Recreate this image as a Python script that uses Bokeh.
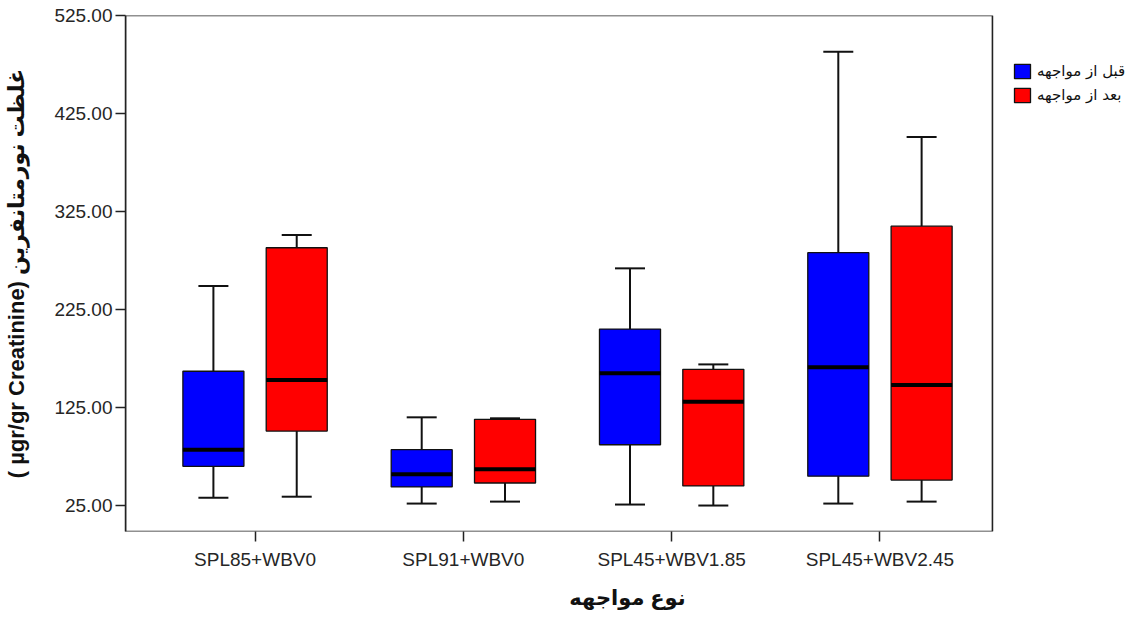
from bokeh.plotting import figure
from bokeh.models import FixedTicker, PrintfTickFormatter, Range1d, Legend, LegendItem, BoxAnnotation
from bokeh.embed import file_html
from bokeh.resources import INLINE

categories = ["SPL85+WBV0", "SPL91+WBV0", "SPL45+WBV1.85", "SPL45+WBV2.45"]
series_names = ["قبل از مواجهه", "بعد از مواجهه"]

before_low = [33, 27, 26, 27]
before_q1 = [65, 44, 87, 55]
before_med = [82, 57, 160, 166]
before_q3 = [162, 82, 205, 283]
before_high = [249, 115, 267, 488]

after_low = [34, 29, 25, 29]
after_q1 = [101, 48, 45, 51]
after_med = [153, 62, 131, 148]
after_q3 = [288, 113, 164, 310]
after_high = [301, 114, 169, 401]

y_ticks = [25, 125, 225, 325, 425, 525]

BOX_W = 0.293
OFFSET = 0.2
CAP_W = 0.144
X_LEFT = 0.378
X_PLOT_RIGHT = 4.54      # right edge of the boxed plot area
X_CANVAS_RIGHT = 5.198   # extra room on the right for the legend

p = figure(width=1129, height=617, output_backend="svg", toolbar_location=None,
           title=None,
           x_range=Range1d(X_LEFT, X_CANVAS_RIGHT), y_range=Range1d(-1.5, 525),
           min_border_left=125, min_border_right=0,
           min_border_top=15, min_border_bottom=86)

p.xgrid.visible = False
p.ygrid.visible = False
p.outline_line_color = None
p.background_fill_color = "white"
p.border_fill_color = "white"

# plot area border (box around the data area, legend sits outside it)
p.add_layout(BoxAnnotation(right=X_PLOT_RIGHT, fill_alpha=0, fill_color=None,
                           line_color="#222222", line_alpha=1.0, line_width=1.6,
                           level="underlay"))


def draw_series(shift, low, q1, med, q3, high, color):
    xs = [i + 1 + shift for i in range(len(categories))]
    # whiskers
    p.segment(x0=xs, y0=q3, x1=xs, y1=high, line_color="#111111", line_width=2)
    p.segment(x0=xs, y0=q1, x1=xs, y1=low, line_color="#111111", line_width=2)
    # caps
    p.segment(x0=[x - CAP_W / 2 for x in xs], y0=high, x1=[x + CAP_W / 2 for x in xs], y1=high,
              line_color="#111111", line_width=2)
    p.segment(x0=[x - CAP_W / 2 for x in xs], y0=low, x1=[x + CAP_W / 2 for x in xs], y1=low,
              line_color="#111111", line_width=2)
    # boxes
    r = p.vbar(x=xs, width=BOX_W, top=q3, bottom=q1, fill_color=color,
               line_color="#111111", line_width=1.3)
    # medians
    p.segment(x0=[x - BOX_W / 2 for x in xs], y0=med, x1=[x + BOX_W / 2 for x in xs], y1=med,
              line_color="black", line_width=4)
    return r


r_before = draw_series(-OFFSET, before_low, before_q1, before_med, before_q3, before_high, "#0000FF")
r_after = draw_series(OFFSET, after_low, after_q1, after_med, after_q3, after_high, "#FF0000")

# axes
p.yaxis.ticker = FixedTicker(ticks=y_ticks)
p.yaxis.formatter = PrintfTickFormatter(format="%.2f")
p.xaxis.ticker = FixedTicker(ticks=[1, 2, 3, 4])
p.xaxis.major_label_overrides = {i + 1: c for i, c in enumerate(categories)}

for ax in (p.xaxis[0], p.yaxis[0]):
    ax.axis_line_color = "#222222"
    ax.axis_line_width = 1.5
    ax.major_tick_line_color = "#222222"
    ax.major_tick_line_width = 1.5
    ax.major_tick_in = 0
    ax.major_tick_out = 10
    ax.minor_tick_line_color = None
    ax.major_label_text_font = "Liberation Sans"
    ax.major_label_text_font_size = "19px"
    ax.major_label_text_color = "#262626"
    ax.axis_label_text_font = "Liberation Sans, DejaVu Sans"
    ax.axis_label_text_font_style = "bold"
    ax.axis_label_text_font_size = "21px"
    ax.axis_label_text_color = "#111111"

p.xaxis.axis_line_color = None
p.yaxis.axis_label_text_font_size = "22px"
p.yaxis.major_label_standoff = 3
p.xaxis.major_label_standoff = 7
p.xaxis.axis_label = "نوع مواجهه"
p.yaxis.axis_label = "( µgr/gr Creatinine) غلظت نورمتانفرین"
p.xaxis.axis_label_standoff = 13
p.yaxis.axis_label_standoff = 22

legend = Legend(items=[LegendItem(label=series_names[0], renderers=[r_before]),
                       LegendItem(label=series_names[1], renderers=[r_after])],
                location=(887, 427), padding=0, margin=0, spacing=6,
                glyph_width=20, glyph_height=18, label_standoff=5,
                border_line_color=None, background_fill_alpha=0,
                label_text_font="DejaVu Sans", label_text_font_size="15px",
                label_height=18, label_text_color="#111111")
p.add_layout(legend)

open("out.html", "w").write(file_html(p, INLINE))
